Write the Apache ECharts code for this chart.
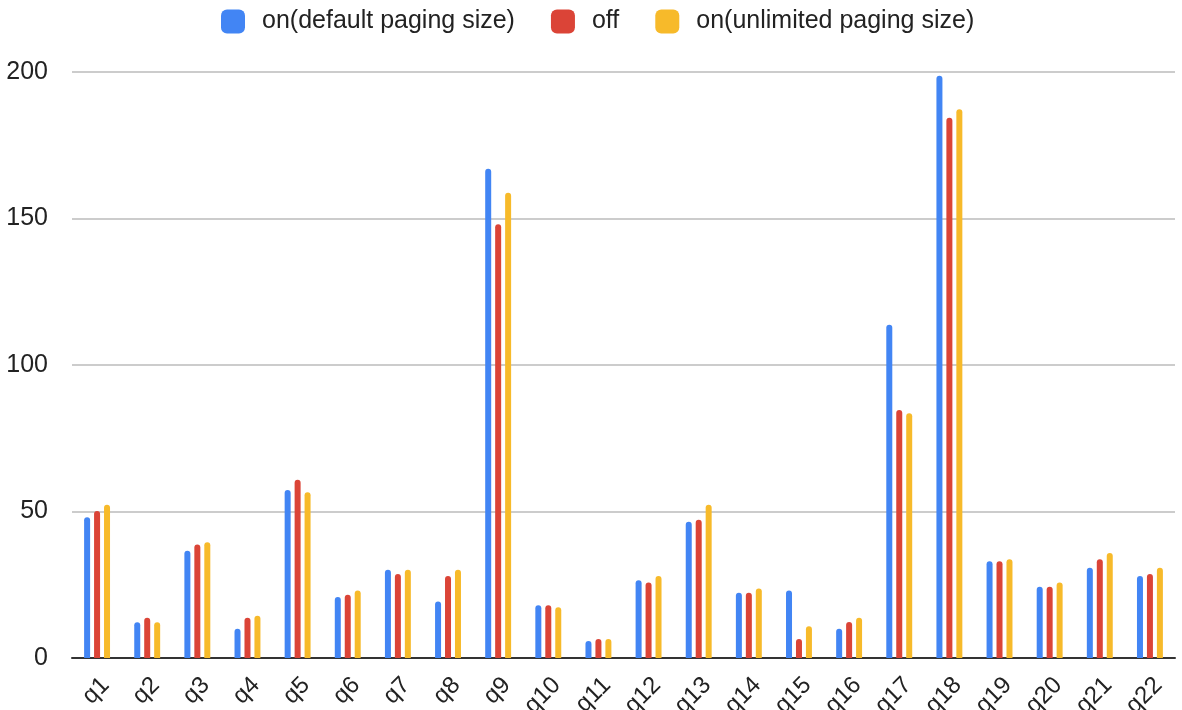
<!DOCTYPE html>
<html>
<head>
<meta charset="utf-8">
<script src="https://cdn.jsdelivr.net/npm/echarts@6/dist/echarts.min.js"></script>
<style>
html,body{margin:0;padding:0;background:#fff;}
#chart{width:1182px;height:710px;}
</style>
</head>
<body>
<div id="chart"></div>
<script>
const categories = ['q1','q2','q3','q4','q5','q6','q7','q8','q9','q10','q11','q12','q13','q14','q15','q16','q17','q18','q19','q20','q21','q22'];
const seriesNames = ['on(default paging size)','off','on(unlimited paging size)'];
const onDefault   = [48.0,12.2,36.6,10.0,57.3,20.8,30.1,19.3,167.0,18.0,5.8,26.5,46.5,22.3,23.0,10.0,113.7,198.7,33.0,24.3,30.8,28.0];
const offValues   = [50.2,13.7,38.7,13.7,60.8,21.6,28.7,28.0,148.0,18.0,6.5,25.8,47.2,22.3,6.5,12.3,84.6,184.4,33.0,24.3,33.7,28.7];
const onUnlimited = [52.3,12.2,39.5,14.4,56.6,23.0,30.1,30.1,158.8,17.3,6.5,28.0,52.3,23.7,10.8,13.7,83.5,187.3,33.7,25.8,35.8,30.8];
const yTicks = [0,50,100,150,200];

const colors = ['#4285F4','#DB4437','#F7BA2A'];
const font = '"Liberation Sans", Arial, sans-serif';
const dataSets = [onDefault, offValues, onUnlimited];

const chart = echarts.init(document.getElementById('chart'));
chart.setOption({
  animation: false,
  color: colors,
  textStyle: {fontFamily: font},
  legend: {
    top: 9,
    left: 221,
    padding: 0,
    itemWidth: 24,
    itemHeight: 24,
    itemGap: 36,
    icon: 'roundRect',
    textStyle: {fontSize: 25, color: '#222', fontFamily: font, padding: [0,0,0,12]},
    data: seriesNames
  },
  grid: {left: 72, right: 7, top: 72, bottom: 52, containLabel: false, outerBoundsMode: 'none'},
  xAxis: {
    type: 'category',
    data: categories,
    axisTick: {show: false},
    axisLine: {lineStyle: {color: '#333', width: 2}},
    axisLabel: {rotate: 45, fontSize: 24, color: '#222', margin: 15, verticalAlign: 'top', fontFamily: font, interval: 0}
  },
  yAxis: {
    type: 'value',
    min: yTicks[0],
    max: yTicks[yTicks.length-1],
    interval: 50,
    axisLine: {show: false},
    axisTick: {show: false},
    axisLabel: {fontSize: 25, color: '#222', margin: 24, fontFamily: font},
    splitLine: {lineStyle: {color: '#cccccc', width: 2}}
  },
  series: seriesNames.map((n, i) => ({
    name: n,
    type: 'bar',
    data: dataSets[i],
    barWidth: 6,
    barGap: '66%',
    itemStyle: {color: colors[i], borderRadius: [3,3,0,0]}
  }))
});
</script>
</body>
</html>
